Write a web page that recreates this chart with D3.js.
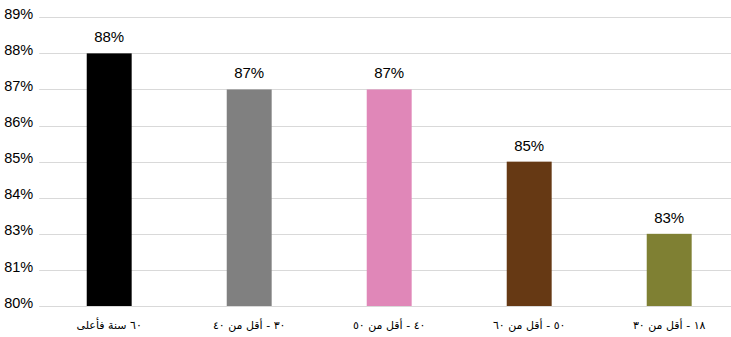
<!DOCTYPE html>
<html>
<head>
<meta charset="utf-8">
<script src="https://cdn.jsdelivr.net/npm/d3@7"></script>
<style>
  html, body { margin: 0; padding: 0; background: #ffffff; }
  svg { display: block; }
</style>
</head>
<body>
<svg id="chart" width="731" height="337"></svg>
<script>
// Age groups (Arabic labels) and the share for each group
const categories = ["٦٠ سنة فأعلى", "٣٠ - أقل من ٤٠", "٤٠ - أقل من ٥٠", "٥٠ - أقل من ٦٠", "١٨ - أقل من ٣٠"];
const values = [0.88, 0.87, 0.87, 0.85, 0.83];
const valueLabels = ["88%", "87%", "87%", "85%", "83%"];
const barColors = ["#000000", "#808080", "#e087b8", "#663914", "#7f8033"];

// Axis gridlines and the labels printed beside them
const yTickValues = [0.81, 0.82, 0.83, 0.84, 0.85, 0.86, 0.87, 0.88, 0.89];
const yTickLabels = ["80%", "81%", "83%", "84%", "85%", "86%", "87%", "88%", "89%"];

const svg = d3.select("#chart");
const plot = { left: 39.2, right: 739.2, top: 17.3, bottom: 306 };

const x = d3.scaleBand()
  .domain(categories)
  .range([plot.left, plot.right])
  .paddingInner(0.679)
  .paddingOuter(0.3395);

const y = d3.scaleLinear()
  .domain([d3.min(yTickValues), d3.max(yTickValues)])
  .range([plot.bottom, plot.top]);

// Horizontal gridlines
svg.append("g")
  .selectAll("line")
  .data(yTickValues)
  .join("line")
  .attr("x1", plot.left)
  .attr("x2", plot.right)
  .attr("y1", d => Math.round(y(d)) + 0.5)
  .attr("y2", d => Math.round(y(d)) + 0.5)
  .attr("stroke", "#d9d9d9")
  .attr("stroke-width", 1);

// Y axis labels
const yAxis = d3.axisLeft(y)
  .tickValues(yTickValues)
  .tickSize(0)
  .tickPadding(6)
  .tickFormat((d, i) => yTickLabels[i]);

svg.append("g")
  .attr("transform", `translate(${plot.left},0)`)
  .call(yAxis)
  .call(g => g.select(".domain").remove())
  .call(g => g.selectAll("text")
    .attr("font-family", "Arial, 'Liberation Sans', sans-serif")
    .attr("font-size", "14.5px")
    .attr("fill", "#000")
    .attr("dy", "0.08em"));

// Bars
svg.append("g")
  .selectAll("rect")
  .data(values)
  .join("rect")
  .attr("x", (d, i) => x(categories[i]))
  .attr("width", x.bandwidth())
  .attr("y", d => y(d))
  .attr("height", d => y.range()[0] - y(d))
  .attr("fill", (d, i) => barColors[i]);

// Value labels above each bar
svg.append("g")
  .selectAll("text")
  .data(values)
  .join("text")
  .attr("x", (d, i) => x(categories[i]) + x.bandwidth() / 2)
  .attr("y", d => y(d) - 11)
  .attr("text-anchor", "middle")
  .attr("font-family", "Arial, 'Liberation Sans', sans-serif")
  .attr("font-size", "15px")
  .attr("fill", "#000")
  .text((d, i) => valueLabels[i]);

// Category labels under the axis
svg.append("g")
  .selectAll("text")
  .data(categories)
  .join("text")
  .attr("x", d => x(d) + x.bandwidth() / 2)
  .attr("y", 329)
  .attr("text-anchor", "middle")
  .attr("font-family", "'DejaVu Sans', sans-serif")
  .attr("font-size", "11px")
  .attr("fill", "#000")
  .text(d => d);
</script>
</body>
</html>
